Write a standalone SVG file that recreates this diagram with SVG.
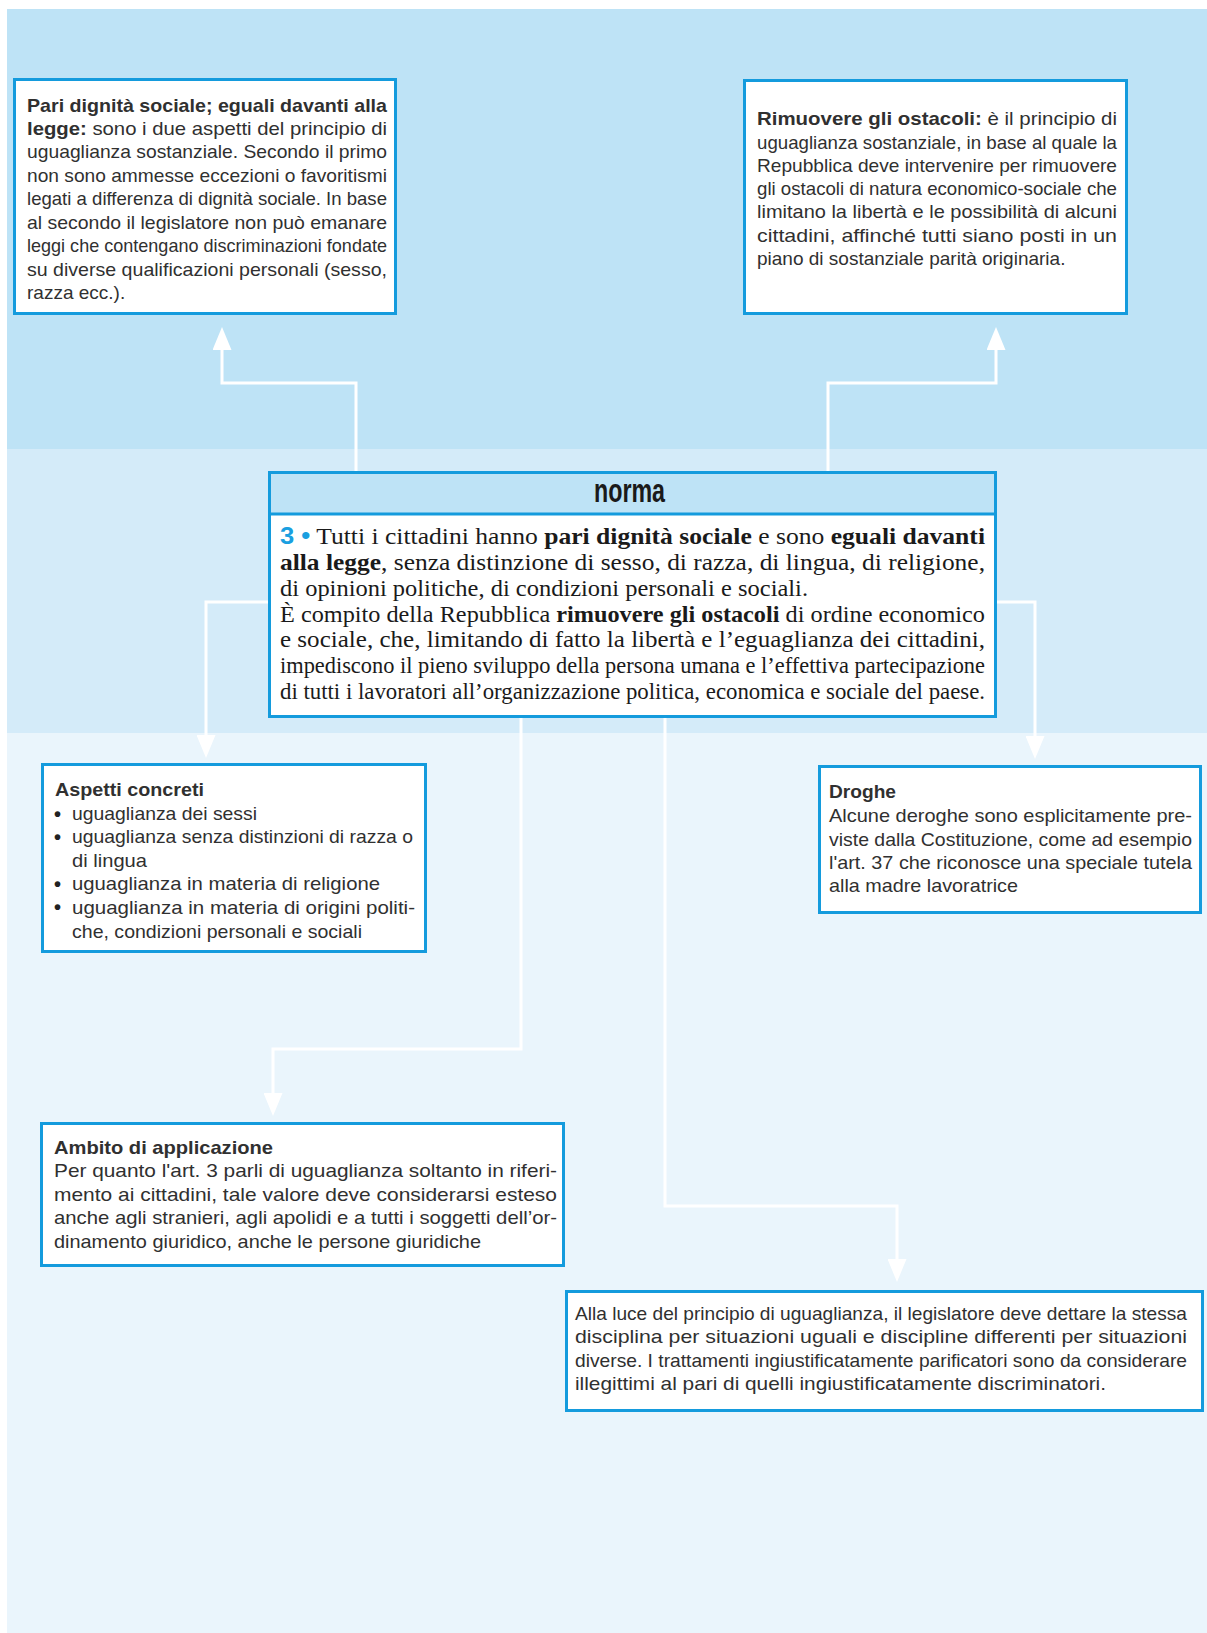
<svg xmlns="http://www.w3.org/2000/svg" width="1207" height="1633" viewBox="0 0 1207 1633">
<defs>
<style>
.bg1{fill:#bee3f6}
.bg2{fill:#d4ebf9}
.bg3{fill:#eaf5fc}
.box{fill:#fff;stroke:#149bdd;stroke-width:3}
.hdr{fill:#bee3f6;stroke:#149bdd;stroke-width:3}
.t{font-family:"Liberation Sans",Arial,sans-serif;font-size:19px;fill:#303030}
.b{font-weight:bold}
.bu{font-family:"Liberation Sans",Arial,sans-serif;font-size:20px;font-weight:bold;fill:#222}
.s{font-family:"Liberation Serif","Times New Roman",serif;font-size:23.5px;fill:#1a1a1a}
.blue{fill:#1a9fe0;font-family:"Liberation Sans",Arial,sans-serif;font-weight:bold}
.con{fill:none;stroke:#fff;stroke-width:3}
</style>
<marker id="ah" markerUnits="userSpaceOnUse" viewBox="0 0 23 19" refX="0" refY="9.5" markerWidth="23" markerHeight="19" orient="auto"><path d="M0,0L23,9.5L0,19z" fill="#fff"/></marker>
</defs>

<g id="background">
<rect class="bg1" x="7" y="9" width="1200" height="440"/>
<rect class="bg2" x="7" y="449" width="1200" height="284"/>
<rect class="bg3" x="7" y="733" width="1200" height="900"/>
</g>

<g id="connectors">
<polyline class="con" points="356,471 356,383 222,383 222,350" marker-end="url(#ah)"/>
<polyline class="con" points="828,471 828,383 996,383 996,350" marker-end="url(#ah)"/>
<polyline class="con" points="268,602 206,602 206,735" marker-end="url(#ah)"/>
<polyline class="con" points="997,602 1035,602 1035,736" marker-end="url(#ah)"/>
<polyline class="con" points="521,718 521,1049 273,1049 273,1093" marker-end="url(#ah)"/>
<polyline class="con" points="665,718 665,1206 897,1206 897,1259" marker-end="url(#ah)"/>
</g>

<g id="node-pari">
<rect class="box" x="14.5" y="79.5" width="381" height="234"/>
<text class="t b" x="27" y="112" textLength="360" lengthAdjust="spacingAndGlyphs">Pari dignità sociale; eguali davanti alla</text>
<text class="t" x="27" y="135" textLength="360" lengthAdjust="spacingAndGlyphs"><tspan class="b">legge:</tspan> sono i due aspetti del principio di</text>
<text class="t" x="27" y="158" textLength="360" lengthAdjust="spacingAndGlyphs">uguaglianza sostanziale. Secondo il primo</text>
<text class="t" x="27" y="182" textLength="360" lengthAdjust="spacingAndGlyphs">non sono ammesse eccezioni o favoritismi</text>
<text class="t" x="27" y="205" textLength="360" lengthAdjust="spacingAndGlyphs">legati a differenza di dignità sociale. In base</text>
<text class="t" x="27" y="229" textLength="360" lengthAdjust="spacingAndGlyphs">al secondo il legislatore non può emanare</text>
<text class="t" x="27" y="252" textLength="360" lengthAdjust="spacingAndGlyphs">leggi che contengano discriminazioni fondate</text>
<text class="t" x="27" y="276" textLength="360" lengthAdjust="spacingAndGlyphs">su diverse qualificazioni personali (sesso,</text>
<text class="t" x="27" y="299">razza ecc.).</text>
</g>

<g id="node-rimuovere">
<rect class="box" x="744.5" y="80.5" width="382" height="233"/>
<text class="t" x="757" y="125" textLength="360" lengthAdjust="spacingAndGlyphs"><tspan class="b">Rimuovere gli ostacoli:</tspan> è il principio di</text>
<text class="t" x="757" y="149" textLength="360" lengthAdjust="spacingAndGlyphs">uguaglianza sostanziale, in base al quale la</text>
<text class="t" x="757" y="172" textLength="360" lengthAdjust="spacingAndGlyphs">Repubblica deve intervenire per rimuovere</text>
<text class="t" x="757" y="195" textLength="360" lengthAdjust="spacingAndGlyphs">gli ostacoli di natura economico-sociale che</text>
<text class="t" x="757" y="218" textLength="360" lengthAdjust="spacingAndGlyphs">limitano la libertà e le possibilità di alcuni</text>
<text class="t" x="757" y="241.5" textLength="360" lengthAdjust="spacingAndGlyphs">cittadini, affinché tutti siano posti in un</text>
<text class="t" x="757" y="265">piano di sostanziale parità originaria.</text>
</g>

<g id="node-norma">
<rect class="box" x="269.5" y="472.5" width="726" height="244"/>
<rect class="hdr" x="269.5" y="472.5" width="726" height="41.5"/>
<text x="594" y="502" textLength="71" lengthAdjust="spacingAndGlyphs" style="font-family:'Liberation Sans Narrow','Liberation Sans',Arial,sans-serif;font-weight:bold;font-size:33px;fill:#1a1a1a">norma</text>
<text class="s" x="280" y="544" textLength="705" lengthAdjust="spacingAndGlyphs"><tspan class="blue">3 •</tspan> Tutti i cittadini hanno <tspan class="b">pari dignità sociale</tspan> e sono <tspan class="b">eguali davanti</tspan></text>
<text class="s" x="280" y="570" textLength="705" lengthAdjust="spacingAndGlyphs"><tspan class="b">alla legge</tspan>, senza distinzione di sesso, di razza, di lingua, di religione,</text>
<text class="s" x="280" y="596" textLength="528" lengthAdjust="spacingAndGlyphs">di opinioni politiche, di condizioni personali e sociali.</text>
<text class="s" x="280" y="621.5" textLength="705" lengthAdjust="spacingAndGlyphs">È compito della Repubblica <tspan class="b">rimuovere gli ostacoli</tspan> di ordine economico</text>
<text class="s" x="280" y="647" textLength="705" lengthAdjust="spacingAndGlyphs">e sociale, che, limitando di fatto la libertà e l’eguaglianza dei cittadini,</text>
<text class="s" x="280" y="673" textLength="705" lengthAdjust="spacingAndGlyphs">impediscono il pieno sviluppo della persona umana e l’effettiva partecipazione</text>
<text class="s" x="280" y="699" textLength="705" lengthAdjust="spacingAndGlyphs">di tutti i lavoratori all’organizzazione politica, economica e sociale del paese.</text>
</g>

<g id="node-aspetti">
<rect class="box" x="42.5" y="764.5" width="383" height="187"/>
<text class="t b" x="55" y="796" textLength="149" lengthAdjust="spacingAndGlyphs">Aspetti concreti</text>
<text class="bu" x="54" y="820.5">•</text>
<text class="t" x="72" y="820" textLength="185" lengthAdjust="spacingAndGlyphs">uguaglianza dei sessi</text>
<text class="bu" x="54" y="843.5">•</text>
<text class="t" x="72" y="843" textLength="341" lengthAdjust="spacingAndGlyphs">uguaglianza senza distinzioni di razza o</text>
<text class="t" x="72" y="867" textLength="75" lengthAdjust="spacingAndGlyphs">di lingua</text>
<text class="bu" x="54" y="890.5">•</text>
<text class="t" x="72" y="890" textLength="308" lengthAdjust="spacingAndGlyphs">uguaglianza in materia di religione</text>
<text class="bu" x="54" y="914">•</text>
<text class="t" x="72" y="913.5" textLength="343" lengthAdjust="spacingAndGlyphs">uguaglianza in materia di origini politi-</text>
<text class="t" x="72" y="937.5" textLength="290" lengthAdjust="spacingAndGlyphs">che, condizioni personali e sociali</text>
</g>

<g id="node-droghe">
<rect class="box" x="819.5" y="766.5" width="381" height="146"/>
<text class="t b" x="829" y="798" textLength="67" lengthAdjust="spacingAndGlyphs">Droghe</text>
<text class="t" x="829" y="822" textLength="363" lengthAdjust="spacingAndGlyphs">Alcune deroghe sono esplicitamente pre-</text>
<text class="t" x="829" y="846" textLength="363" lengthAdjust="spacingAndGlyphs">viste dalla Costituzione, come ad esempio</text>
<text class="t" x="829" y="869" textLength="363" lengthAdjust="spacingAndGlyphs">l'art. 37 che riconosce una speciale tutela</text>
<text class="t" x="829" y="892" textLength="189" lengthAdjust="spacingAndGlyphs">alla madre lavoratrice</text>
</g>

<g id="node-ambito">
<rect class="box" x="41.5" y="1123.5" width="522" height="142"/>
<text class="t b" x="54" y="1154" textLength="219" lengthAdjust="spacingAndGlyphs">Ambito di applicazione</text>
<text class="t" x="54" y="1177" textLength="503" lengthAdjust="spacingAndGlyphs">Per quanto l'art. 3 parli di uguaglianza soltanto in riferi-</text>
<text class="t" x="54" y="1201" textLength="503" lengthAdjust="spacingAndGlyphs">mento ai cittadini, tale valore deve considerarsi esteso</text>
<text class="t" x="54" y="1224" textLength="503" lengthAdjust="spacingAndGlyphs">anche agli stranieri, agli apolidi e a tutti i soggetti dell’or-</text>
<text class="t" x="54" y="1248" textLength="427" lengthAdjust="spacingAndGlyphs">dinamento giuridico, anche le persone giuridiche</text>
</g>

<g id="node-uguaglianza">
<rect class="box" x="566.5" y="1291.5" width="636" height="119"/>
<text class="t" x="575" y="1320" textLength="612" lengthAdjust="spacingAndGlyphs">Alla luce del principio di uguaglianza, il legislatore deve dettare la stessa</text>
<text class="t" x="575" y="1343" textLength="612" lengthAdjust="spacingAndGlyphs">disciplina per situazioni uguali e discipline differenti per situazioni</text>
<text class="t" x="575" y="1366.5" textLength="612" lengthAdjust="spacingAndGlyphs">diverse. I trattamenti ingiustificatamente parificatori sono da considerare</text>
<text class="t" x="575" y="1390" textLength="531" lengthAdjust="spacingAndGlyphs">illegittimi al pari di quelli ingiustificatamente discriminatori.</text>
</g>
</svg>
